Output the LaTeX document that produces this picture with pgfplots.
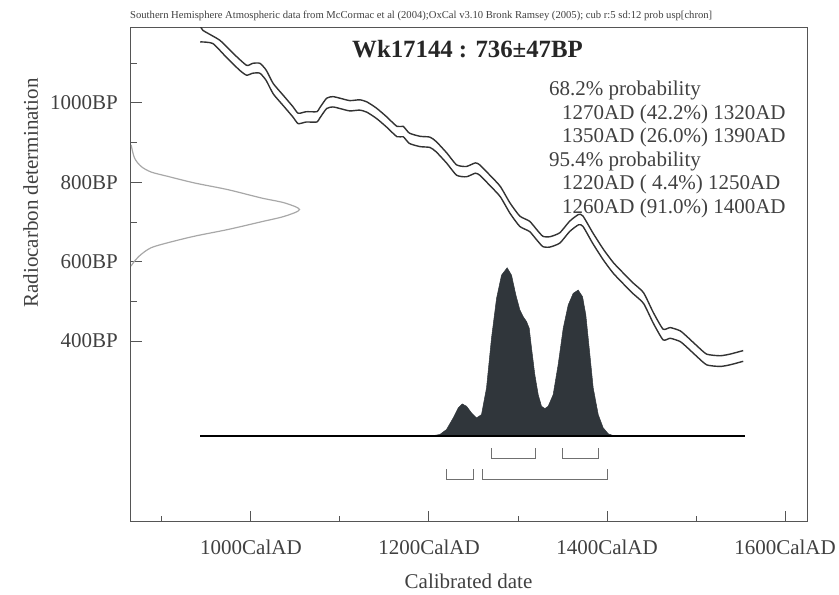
\documentclass[border=0pt]{standalone}
\usepackage{fontspec}
\setmainfont{Liberation Serif}
\usepackage{pgfplots}
\pgfplotsset{compat=1.18}
\definecolor{distfill}{HTML}{30363B}
\definecolor{curvec}{HTML}{333333}
\definecolor{axc}{HTML}{555555}
\definecolor{txtc}{HTML}{404040}
\definecolor{gaussc}{HTML}{A8A8A8}
\definecolor{brc}{HTML}{707070}
\newcommand{\lfont}{\fontsize{21bp}{25bp}\selectfont}
\begin{document}
\begin{tikzpicture}[x=1bp,y=1bp]
\useasboundingbox (-131,-73) rectangle (708,522);
\begin{axis}[
 at={(0,0)}, anchor=south west,
 scale only axis, width=676bp, height=494bp,
 xmin=865.2, xmax=1624.7, ymin=-56, ymax=1189,
 axis line style={axc, line width=1bp},
 tick style={axc, line width=1bp},
 tick align=inside, tick pos=left,
 major tick length=11bp, minor tick length=6bp,
 xtick={1000,1200,1400,1600},
 xticklabels={1000CalAD,1200CalAD,1400CalAD,1600CalAD},
 minor xtick={900,1100,1300,1500},
 ytick={400,600,800,1000},
 yticklabels={400BP,600BP,800BP,1000BP},
 minor ytick={500,700,900,1100},
 xticklabel style={anchor=base, yshift=-33bp, inner sep=0pt, font=\lfont, text=txtc},
 yticklabel style={anchor=east, xshift=-13bp, inner sep=0pt, font=\lfont, text=txtc},
 xlabel={Calibrated date},
 xlabel style={at={(axis description cs:0.4993,-0.1356)}, anchor=base, inner sep=0pt, font=\lfont, text=txtc},
 ylabel={Radiocarbon determination},
 ylabel style={at={(axis description cs:-0.1376,0.666)}, anchor=base, inner sep=0pt, font=\lfont, text=txtc},
 title={Wk17144 : 736±47BP},
 title style={at={(axis description cs:0.4978,0.9291)}, anchor=base, inner sep=0pt, font=\bfseries\fontsize{24.8bp}{28bp}\selectfont, text=black!85},
]
% probability distribution of the calibrated date
\addplot[fill=distfill, draw=distfill, line width=0.5bp] coordinates {
(1201.0,160.3) (1212.2,164.5) (1219.7,177.0) (1227.2,206.3) (1232.8,231.4)
(1237.3,241.5) (1242.2,235.6) (1247.8,218.9) (1253.4,206.3) (1259.0,214.7)
(1264.6,281.6) (1270.2,407.2) (1275.9,507.6) (1281.5,566.2) (1287.8,584.6)
(1292.7,566.2) (1297.6,516.0) (1302.1,478.3) (1305.8,461.6) (1309.6,449.0)
(1312.6,432.3) (1315.2,382.1) (1318.9,315.1) (1322.7,264.9) (1326.4,235.6)
(1330.2,229.8) (1333.9,235.6) (1339.5,264.9) (1345.1,340.2) (1350.8,432.3)
(1356.4,490.9) (1362.0,520.2) (1367.6,528.5) (1372.5,511.8) (1376.2,465.8)
(1380.0,382.1) (1384.5,281.6) (1390.1,214.7) (1395.7,181.3) (1401.4,166.2)
(1408.8,160.3)} -- cycle;
% baseline
\addplot[black, line width=1.5bp] coordinates {(943,160.3) (1555,160.3)};
% calibration curve, upper edge
\addplot[curvec, line width=1.4bp, smooth, tension=0.35] coordinates {
(943,1195) (946,1183) (965,1158) (980,1125) (995,1095) (1002,1100) (1010,1100)
(1017,1083) (1025,1049) (1036,1020) (1047,991) (1053,974) (1062,978) (1074,978)
(1077,987) (1085,1012) (1092,1016) (1100,1012) (1111,1006) (1122,1008) (1130,1003)
(1141,987) (1152,966) (1164,941) (1171,941) (1178,924) (1190,916) (1201,914)
(1208,903) (1220,874) (1231,844) (1242,840) (1252,849) (1257,844) (1268,819)
(1280,790) (1291,748) (1302,715) (1313,702) (1321,681) (1328,664) (1336,663)
(1347,673) (1358,702) (1368,719) (1373,715) (1384,673) (1396,631) (1407,598)
(1418,572) (1429,547) (1441,522) (1452,472) (1463,430) (1471,434) (1482,426)
(1489,413) (1501,388) (1512,367) (1527,363) (1538,367) (1553,376)};
% calibration curve, lower edge
\addplot[curvec, line width=1.4bp, smooth, tension=0.35] coordinates {
(943,1154) (957,1150) (972,1116) (987,1083) (995,1070) (1002,1075) (1010,1075)
(1017,1057) (1025,1023) (1036,994) (1047,965) (1053,948) (1062,952) (1074,952)
(1077,961) (1085,986) (1092,990) (1100,986) (1111,980) (1122,982) (1130,977)
(1141,961) (1152,940) (1164,915) (1171,915) (1178,898) (1190,890) (1201,888)
(1208,877) (1220,848) (1231,818) (1242,814) (1252,823) (1257,818) (1268,793)
(1280,764) (1291,722) (1302,689) (1313,676) (1321,655) (1328,638) (1336,637)
(1347,647) (1358,676) (1368,693) (1373,689) (1384,646) (1396,604) (1407,571)
(1418,545) (1429,520) (1441,495) (1452,445) (1463,403) (1471,407) (1482,399)
(1489,386) (1501,361) (1512,340) (1527,336) (1538,340) (1553,349)};
% radiocarbon measurement distribution
\addplot[gaussc, line width=1.2bp, smooth, tension=0.5] coordinates {
(865.3,894.6) (869.2,861.2) (876.6,840.1) (887.8,826.0) (906.6,815.0)
(936.6,798.4) (974.0,781.6) (1011.4,760.7) (1037.7,748.2) (1054.6,731.4)
(1037.7,714.5) (1011.4,700.5) (974.0,681.1) (936.6,664.3) (906.6,647.8)
(887.8,635.2) (876.6,618.4) (869.2,601.6) (865.3,589.0)};
% 68.2% ranges
\addplot[brc, line width=1bp] coordinates {(1270,129.5) (1270,104.3) (1320,104.3) (1320,129.5)};
\addplot[brc, line width=1bp] coordinates {(1350,129.5) (1350,104.3) (1390,104.3) (1390,129.5)};
% 95.4% ranges
\addplot[brc, line width=1bp] coordinates {(1220,76.6) (1220,51.4) (1250,51.4) (1250,76.6)};
\addplot[brc, line width=1bp] coordinates {(1260,76.6) (1260,51.4) (1400,51.4) (1400,76.6)};
\end{axis}
% header line
\node[anchor=base west, inner sep=0pt, text=txtc] at (-1,503.5)
 {\resizebox{582bp}{!}{\fontsize{10bp}{12bp}\selectfont Southern Hemisphere Atmospheric data from McCormac et al (2004);OxCal v3.10 Bronk Ramsey (2005); cub r:5 sd:12 prob usp[chron]}};
% probability text
\begin{scope}[every node/.style={anchor=base west, inner sep=0pt, font=\lfont, text=txtc}]
\node at (418,426) {68.2\% probability};
\node at (431,402.5) {1270AD (42.2\%) 1320AD};
\node at (431,379) {1350AD (26.0\%) 1390AD};
\node at (418,355.5) {95.4\% probability};
\node at (431,332) {1220AD (\ 4.4\%) 1250AD};
\node at (431,308.5) {1260AD (91.0\%) 1400AD};
\end{scope}
\end{tikzpicture}
\end{document}
